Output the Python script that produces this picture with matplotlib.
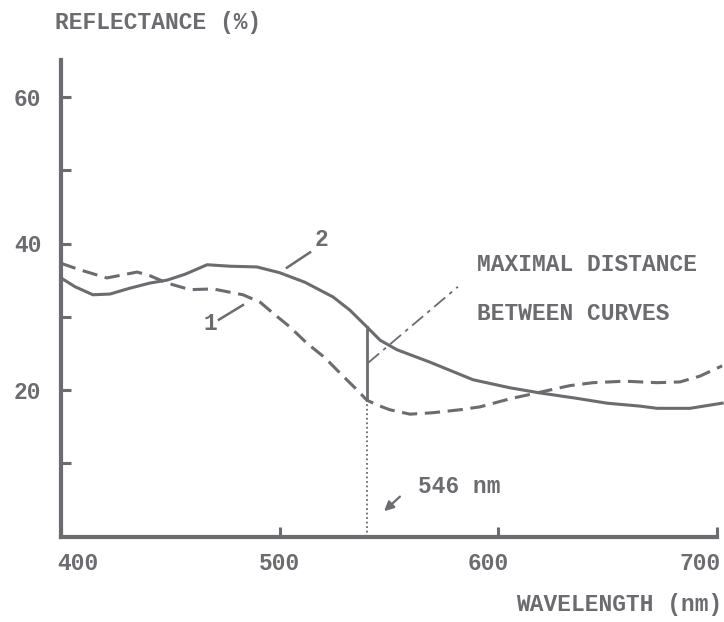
import numpy as np
import matplotlib.pyplot as plt
from matplotlib.transforms import ScaledTranslation

# curve 1 (dashed) and curve 2 (solid)
wl_1 = [400, 408.7, 421.0, 434.8, 440.7, 448.5, 459.0, 469.5, 483.2, 491.0,
        496.9, 504.7, 512.4, 520.7, 527.6, 534.4, 539.9, 545.9, 550.4, 559.6,
        570.1, 582.4, 591.6, 605.3, 619.0, 632.7, 643.3, 657.9, 672.5, 683.0,
        692.2, 702.3]
refl_1 = [37.3, 36.4, 35.3, 36.1, 35.6, 34.6, 33.7, 33.8, 33.0, 32.0,
          30.5, 28.6, 26.4, 24.4, 22.3, 20.3, 18.6, 17.8, 17.3, 16.7,
          16.9, 17.3, 17.7, 18.8, 19.7, 20.6, 21.0, 21.2, 21.0, 21.1,
          21.9, 23.3]

wl_2 = [400, 406.4, 414.6, 422.4, 431.5, 440.7, 448.5, 456.7, 466.8, 477.3,
        489.6, 500.1, 511.6, 524.4, 532.1, 539.9, 545.9, 553.6, 568.7, 588.4,
        605.3, 619.0, 635.0, 649.7, 664.7, 672.5, 687.6, 702.3]
refl_2 = [35.3, 34.1, 33.0, 33.1, 33.9, 34.6, 35.0, 35.8, 37.1, 36.9,
          36.8, 36.0, 34.7, 32.7, 30.9, 28.6, 26.8, 25.5, 23.8, 21.4,
          20.3, 19.6, 18.9, 18.2, 17.8, 17.5, 17.5, 18.2]

x_ticks = [400, 500, 600, 700]
y_ticks = [20, 40, 60]
y_minor = [10, 30, 50]
marker_wl = 540   # where the 546 nm line is drawn in the original

ink = '#6b6b70'
font = dict(family=['Liberation Mono', 'DejaVu Sans Mono'], weight='bold', color=ink)
fs = 16.5

fig = plt.figure(figsize=(7.24, 6.22), dpi=100)
ax = fig.add_axes([61 / 724, 1 - 536.5 / 622, 303 * 2.187 / 724, 65 * 7.325 / 622])

ax.plot(wl_1, refl_1, color=ink, lw=2.2, dashes=(5, 2.5), clip_on=False)
ax.plot(wl_2, refl_2, color=ink, lw=2.2, clip_on=False)

low = np.interp(marker_wl, wl_1, refl_1)
high = np.interp(marker_wl, wl_2, refl_2)
ax.plot([marker_wl, marker_wl], [low, high], color=ink, lw=2.0)
ax.plot([marker_wl, marker_wl], [0, low], color=ink, lw=1.3, ls=(0, (1, 1.5)))

# curve labels with short leaders
ax.plot([503.3, 513.9], [36.7, 38.8], color=ink, lw=1.8)
ax.text(519.3, 40.5, '2', ha='center', va='center', fontsize=fs, **font)
ax.plot([472.2, 483.2], [29.6, 31.6], color=ink, lw=1.8)
ax.text(468.1, 29.1, '1', ha='center', va='center', fontsize=fs, **font)

ax.plot([540.4, 581.5], [23.7, 34.1], color=ink, lw=1.3, ls=(0, (8, 3, 2, 3)))
ax.text(590.2, 37.1, 'MAXIMAL DISTANCE', ha='left', va='center', fontsize=fs, **font)
ax.text(590.2, 30.5, 'BETWEEN CURVES', ha='left', va='center', fontsize=fs, **font)

ax.text(563.2, 6.8, '546 nm', ha='left', va='center', fontsize=fs, **font)
ax.annotate('', xy=(546.8, 3.2), xytext=(555.9, 5.7),
            arrowprops=dict(arrowstyle='-|>', color=ink, lw=1.6, mutation_scale=14))

ax.set_xlim(400, 703)
ax.set_ylim(0, 65)
for s in ['top', 'right']:
    ax.spines[s].set_visible(False)
ax.spines['left'].set_bounds(0, 65)
ax.spines['bottom'].set_bounds(400, 700)
for s in ['left', 'bottom']:
    ax.spines[s].set_linewidth(3)
    ax.spines[s].set_color(ink)

ax.set_xticks(x_ticks)
ax.set_yticks(y_ticks)
ax.set_yticks(y_minor, minor=True)
ax.tick_params(axis='both', which='both', direction='in', length=7, width=2.2, color=ink)
ax.tick_params(axis='y', pad=14)
ax.tick_params(axis='x', pad=11)
for lab in ax.get_xticklabels() + ax.get_yticklabels():
    lab.set_fontfamily(font['family'])
    lab.set_fontweight('bold')
    lab.set_fontsize(fs)
    lab.set_color(ink)

# the typed labels under the x axis sit a little off their ticks
x_shift = [17, 0, -10, -17]
for lab, dx in zip(ax.get_xticklabels(), x_shift):
    lab.set_transform(lab.get_transform() + ScaledTranslation(dx / 100, 0, fig.dpi_scale_trans))

fig.text(55 / 724, 1 - 22 / 622, 'REFLECTANCE (%)', ha='left', va='center', fontsize=fs, **font)
fig.text(722 / 724, 1 - 605 / 622, 'WAVELENGTH (nm)', ha='right', va='center', fontsize=fs, **font)

fig.savefig('out.png', dpi=100, facecolor='white')
